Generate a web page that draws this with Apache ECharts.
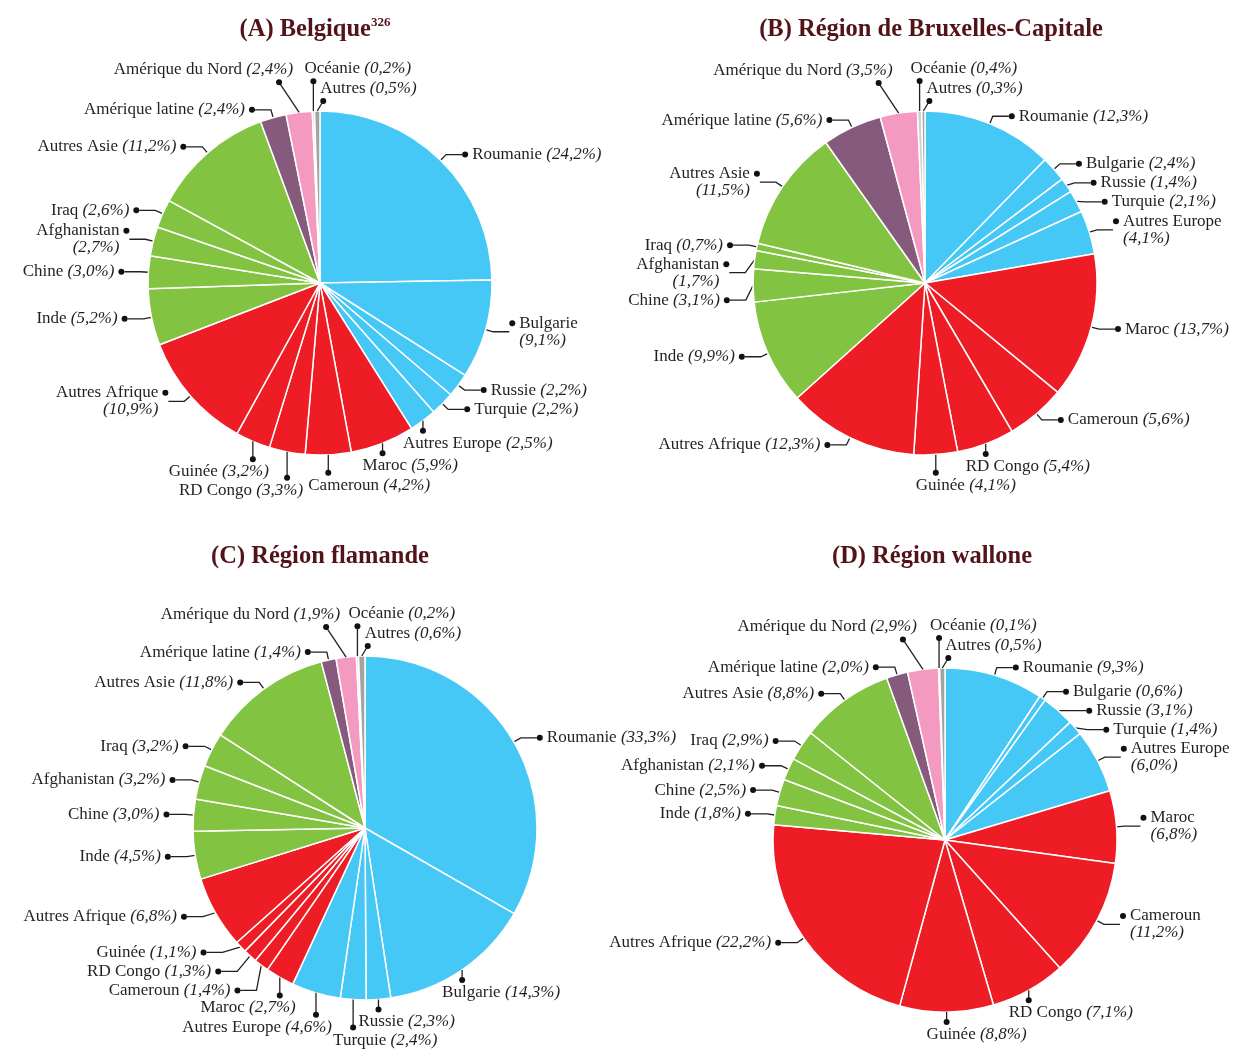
<!DOCTYPE html>
<html>
<head>
<meta charset="utf-8">
<script src="https://cdn.jsdelivr.net/npm/echarts@6/dist/echarts.min.js"></script>
<style>
html,body{margin:0;padding:0;background:#fff;}
#c{width:1236px;height:1050px;}
</style>
</head>
<body>
<div id="c"></div>
<script>
// Categories (clockwise from 12 o'clock)
const categories = ['Roumanie','Bulgarie','Russie','Turquie','Autres Europe','Maroc','Cameroun','RD Congo','Guinée','Autres Afrique','Inde','Chine','Afghanistan','Iraq','Autres Asie','Amérique latine','Amérique du Nord','Océanie','Autres'];
// Shares (%) per region
const valuesA = [24.2, 9.1, 2.2, 2.2, 2.5, 5.9, 4.2, 3.3, 3.2, 10.9, 5.2, 3.0, 2.7, 2.6, 11.2, 2.4, 2.4, 0.2, 0.5];
const valuesB = [12.3, 2.4, 1.4, 2.1, 4.1, 13.7, 5.6, 5.4, 4.1, 12.3, 9.9, 3.1, 1.7, 0.7, 11.5, 5.6, 3.5, 0.4, 0.3];
const valuesC = [33.3, 14.3, 2.3, 2.4, 4.6, 2.7, 1.4, 1.3, 1.1, 6.8, 4.5, 3.0, 3.2, 3.2, 11.8, 1.4, 1.9, 0.2, 0.6];
const valuesD = [9.3, 0.6, 3.1, 1.4, 6.0, 6.8, 11.2, 7.1, 8.8, 22.2, 1.8, 2.5, 2.1, 2.9, 8.8, 2.0, 2.9, 0.1, 0.5];
const titles = ['(A) Belgique', '(B) Région de Bruxelles-Capitale', '(C) Région flamande', '(D) Région wallone'];
const titleSup = ['326', '', '', ''];

// Styling
const colors = ['#45C8F5','#45C8F5','#45C8F5','#45C8F5','#45C8F5',
  '#EE1D25','#EE1D25','#EE1D25','#EE1D25','#EE1D25',
  '#82C341','#82C341','#82C341','#82C341','#82C341',
  '#865A7D','#F49AC1','#CFCFCF','#A3A3A3'];
const wrapped = [
  ['Bulgarie','Autres Afrique','Afghanistan'],
  ['Autres Europe','Autres Asie','Afghanistan'],
  [],
  ['Autres Europe','Maroc','Cameroun']
];
const allValues = [valuesA, valuesB, valuesC, valuesD];
const centers = [[320,283],[925,283],[365,828],[945,840]];
const R = 172;
const titlePos = [[310,11],[926,11],[315,538],[927,538]];
const FONT = 'Liberation Serif';
const FS = 17;
const TXT = '#231F20';
const BOT_OFF = 20;   // text start left of dot (bottom labels, left aligned)
const BOT_OFF_R = 16; // text end right of dot (bottom labels, right aligned)

function pct(v){ return '(' + v.toFixed(1).replace('.', ',') + '%)'; }

const meas = document.createElement('canvas').getContext('2d');
function tw(s, italic){ meas.font = (italic ? 'italic ' : '') + FS + 'px "' + FONT + '"'; return meas.measureText(s).width; }

function midAngles(vals){
  const total = vals.reduce((a,b)=>a+b,0);
  let cum = 0;
  return vals.map(v => { const m = (cum + v/2)/total*360; cum += v; return m; });
}
function zoneOf(t, v){
  if (t > 350) return 'top';
  if ((t >= 140 && t <= 200) || (t > 200 && t <= 212 && v < 4)) return 'bottom';
  return 'side';
}

// label placement for near-vertical labels (top and bottom of each pie)
function layoutZones(vals, k){
  const [cx, cy] = centers[k];
  const th = midAngles(vals);
  const zone = th.map((t,i)=>zoneOf(t, vals[i]));
  const placed = [];
  const res = {};
  const H = FS;
  const overlaps = b => placed.some(p => !(b.r + 1 < p.l || b.l > p.r + 1 || b.b + 1 < p.t || b.t > p.b + 1));
  const tops = th.map((t,i)=>i).filter(i => zone[i] === 'top').sort((a,b)=>(360-th[a])-(360-th[b]));
  const bots = th.map((t,i)=>i).filter(i => zone[i] === 'bottom').sort((a,b)=>Math.abs(th[b]-180)-Math.abs(th[a]-180));
  bots.forEach(i => {
    const a = th[i]*Math.PI/180;
    const ex = cx + R*Math.sin(a), ey = cy - R*Math.cos(a);
    const w = tw(categories[i]) + tw(' ') + tw(pct(vals[i]), true);
    const align = th[i] < 186 ? 'left' : 'right';
    const dotX = ex;
    let L = th[i] > 200 ? 18 : 10, box;
    for (let n = 0; n < 80; n++, L += 2) {
      const dotY = ey + L;
      const l = align === 'left' ? dotX - BOT_OFF : dotX + BOT_OFF_R - w;
      box = {l, r: l + w, t: dotY + 4, b: dotY + 4 + H};
      if (!overlaps(box)) break;
    }
    placed.push(box);
    res[i] = {zone:'bottom', align, ex, ey, dotX, dotY: ey + L};
  });
  let firstLeft = true;
  tops.forEach(i => {
    const a = th[i]*Math.PI/180;
    const ex = cx + R*Math.sin(a), ey = cy - R*Math.cos(a);
    const w = tw(categories[i]) + tw(' ') + tw(pct(vals[i]), true);
    const align = th[i] < 357 ? 'right' : 'left';
    let dotX, off;
    if (align === 'right') { dotX = ex - 20; off = 14; }
    else if (firstLeft) { dotX = ex + 6; off = 2; firstLeft = false; }
    else { dotX = ex; off = 9; }
    let L = align === 'right' ? 30 : 10, box;
    for (let n = 0; n < 80; n++, L += 2) {
      const dotY = ey - L;
      const l = align === 'left' ? dotX - off : dotX + off - w;
      box = {l, r: l + w, t: dotY - 4 - H, b: dotY - 4};
      if (!overlaps(box)) break;
    }
    placed.push(box);
    res[i] = {zone:'top', align, ex, ey, dotX, dotY: ey - L, off};
  });
  return {th, zone, res};
}

const rich = {
  n:{fontFamily:FONT, fontSize:FS, color:TXT, lineHeight:17},
  p:{fontFamily:FONT, fontSize:FS, fontStyle:'italic', color:TXT, lineHeight:17},
  d:{width:6, height:6, borderRadius:3, backgroundColor:'#111', lineHeight:8},
  g:{width:4},
  s:{width:10},
  sa:{width:BOT_OFF - 3, lineHeight:8},
  sb:{width:BOT_OFF_R - 3, lineHeight:8},
  s9:{width:6, lineHeight:8},
  s14:{width:11, lineHeight:8}
};
const lineStyle = {color:TXT, width:1.3};

const zoneInfo = allValues.map((v,k)=>layoutZones(v,k));

function mainSeries(vals, k){
  const {th, zone} = zoneInfo[k];
  const data = categories.map((c,i)=>{
    const d = {name:c, value:vals[i], itemStyle:{color:colors[i]}};
    if (zone[i] !== 'side') { d.label = {show:false}; d.labelLine = {show:false}; }
    return d;
  });
  return {
    type:'pie', center: centers[k], radius: R, startAngle: 90, clockwise: true,
    minShowLabelAngle: 0, avoidLabelOverlap: true,
    itemStyle:{borderColor:'#fff', borderWidth:1.5},
    emphasis:{disabled:true},
    label:{
      show:true, position:'outside', distanceToLabelLine: 0, overflow:'none', bleedMargin: 0,
      fontFamily: FONT, fontSize: FS, color:TXT,
      formatter: p => {
        const i = p.dataIndex;
        const w = wrapped[k].indexOf(p.name) >= 0;
        const n = '{n|' + p.name + '}';
        const q = '{p|' + pct(vals[i]) + '}';
        if (th[i] < 180) return w ? '{d|}{g|}' + n + '\n{s|}' + q : '{d|}{g|}' + n + ' ' + q;
        return w ? n + '{g|}{d|}\n' + q + '{s|}' : n + ' ' + q + '{g|}{d|}';
      },
      rich
    },
    labelLine:{show:true, length:8, length2:16, lineStyle},
    data
  };
}

function zoneSeries(vals, k){
  const {res} = zoneInfo[k];
  const data = categories.map((c,i)=>{
    const d = {name:c, value:vals[i]};
    if (!res[i]) { d.label = {show:false}; d.labelLine = {show:false}; }
    return d;
  });
  return {
    type:'pie', center: centers[k], radius: R, startAngle: 90, clockwise: true,
    minShowLabelAngle: 0, avoidLabelOverlap: false, silent: true, z: 3,
    itemStyle:{color:'rgba(0,0,0,0)', borderWidth:0},
    emphasis:{disabled:true},
    label:{
      show:true, position:'outside', distanceToLabelLine: 0, overflow:'none',
      fontFamily: FONT, fontSize: FS, color:TXT,
      formatter: p => {
        const z = res[p.dataIndex];
        if (!z) return '';
        const t = '{n|' + p.name + '} {p|' + pct(vals[p.dataIndex]) + '}';
        if (z.zone === 'bottom') return (z.align === 'left' ? '{sa|}{d|}' : '{d|}{sb|}') + '\n' + t;
        if (z.align === 'right') return t + '\n{d|}{s14|}';
        return t + '\n' + (z.off === 2 ? '{d|}' : '{s9|}{d|}');
      },
      rich
    },
    labelLine:{show:true, length:8, length2:8, lineStyle},
    labelLayout: params => {
      const z = res[params.dataIndex];
      if (!z) return {};
      const pts = [[z.ex, z.ey], [(z.ex+z.dotX)/2, (z.ey+z.dotY)/2], [z.dotX, z.dotY]];
      if (z.zone === 'bottom') {
        return {x: z.align === 'left' ? z.dotX - BOT_OFF : z.dotX + BOT_OFF_R, y: z.dotY - 4,
                align: z.align, verticalAlign:'top', labelLinePoints: pts};
      }
      const x = z.align === 'left' ? (z.off === 2 ? z.dotX - 3 : z.dotX - 9) : z.dotX + 14;
      return {x, y: z.dotY + 4, align: z.align, verticalAlign:'bottom', labelLinePoints: pts};
    },
    data
  };
}

const chart = echarts.init(document.getElementById('c'), null, {renderer:'canvas'});
const series = [];
allValues.forEach((v,k)=>{ series.push(mainSeries(v,k)); series.push(zoneSeries(v,k)); });
chart.setOption({
  animation:false,
  backgroundColor:'#fff',
  tooltip:{show:false},
  title: titles.map((t,k)=>({
    text: titleSup[k] ? '{t|' + t + '}{u|' + titleSup[k] + '}' : '{t|' + t + '}',
    left: titlePos[k][0], top: titlePos[k][1], textAlign:'center',
    textStyle:{
      rich:{
        t:{fontFamily:FONT, fontSize:24.5, fontWeight:'bold', color:'#521419', lineHeight:28},
        u:{fontFamily:FONT, fontSize:13, fontWeight:'bold', color:'#521419', lineHeight:28, verticalAlign:'top', padding:[0,0,10,0]}
      }
    }
  })),
  series
});
</script>
</body>
</html>
